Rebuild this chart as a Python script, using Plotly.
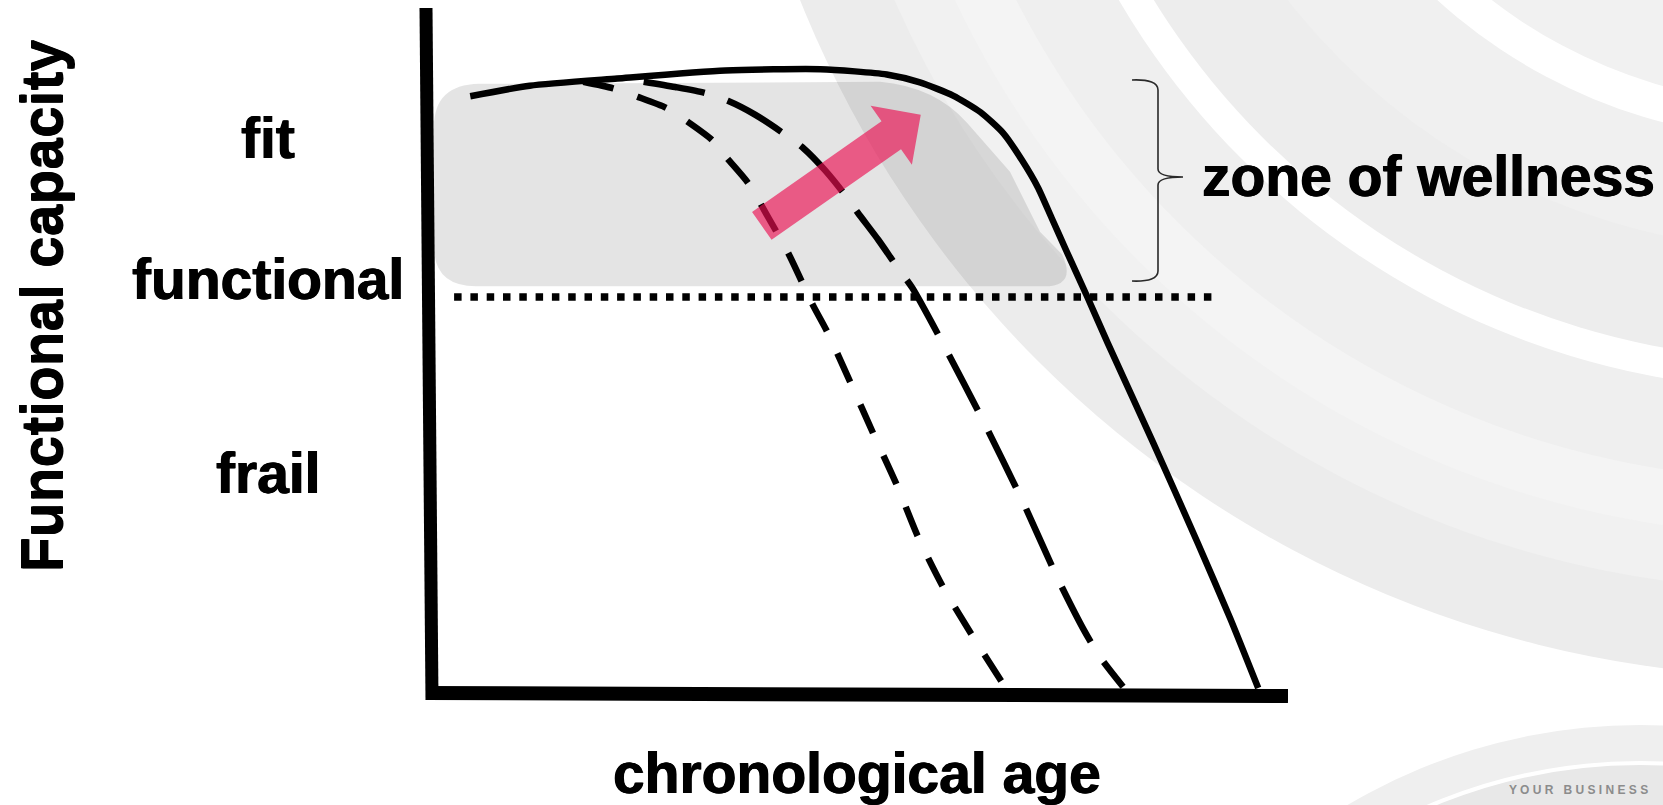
import numpy as np
import plotly.graph_objects as go

W, H = 1663, 805

# ---------------- data ----------------
# x: chronological age (arbitrary 0-100 scale), y: functional capacity (0-100)
solid_age = [4.5, 11.5, 21.8, 34.5, 45.7, 53.5, 57.4, 61.3, 64.5, 67.2,
             69.4, 71.3, 72.9, 74.6, 77.1, 79.5, 84.8, 90.1, 93.9, 97.2]
solid_cap = [90.5, 92.1, 93.2, 94.4, 94.6, 93.8, 92.6, 90.6, 88.1, 84.9,
             80.8, 76.6, 72.0, 67.1, 60.0, 53.0, 38.0, 22.6, 11.2, 0.6]

early_age = [17.8, 21.3, 24.2, 27.6, 30.1, 32.9, 34.7, 37.2, 39.6, 41.9,
             44.8, 46.5, 49.2, 51.9, 54.7, 57.2, 60.1, 63.5, 67.1]
early_cap = [92.7, 91.7, 90.4, 88.7, 86.6, 83.9, 81.1, 77.3, 72.0, 66.7,
             58.8, 54.7, 47.1, 39.3, 31.4, 23.5, 16.0, 8.7, 1.4]

mid_age = [24.9, 28.6, 32.1, 34.8, 38.0, 41.3, 43.7, 46.2, 48.6, 50.1,
           52.5, 54.7, 56.5, 60.0, 64.8, 69.4, 73.7, 76.7, 78.6, 81.3]
mid_cap = [92.7, 91.9, 91.0, 89.8, 87.7, 84.9, 82.6, 79.3, 75.5, 72.8,
           68.7, 64.6, 61.4, 53.2, 41.3, 29.2, 17.0, 9.4, 5.3, 0.8]

threshold_age = [2.6, 92.5]
threshold_cap = [60.0, 60.0]

arrow_from = (38.8, 70.8)   # (age, capacity)
arrow_to = (57.5, 87.7)

level_labels = ["fit", "functional", "frail"]
level_caps = [84.2, 62.7, 33.3]
zone_label = "zone of wellness"
zone_caps = [93.6, 62.4]
x_title = "chronological age"
y_title = "Functional capacity"
brand = "YOUR BUSINESS"

# ---------------- coordinate helpers ----------------
X0_PX, X_SCALE = 432.0, 8.5
Y0_PX, Y_SCALE = 692.0, 6.5833
x_range = [-X0_PX / X_SCALE, (W - X0_PX) / X_SCALE]
y_range = [(Y0_PX - H) / Y_SCALE, Y0_PX / Y_SCALE]


def a2px(a):
    return X0_PX + a * X_SCALE


def c2py(c):
    return Y0_PX - c * Y_SCALE


def px2x(px):
    return px / W


def py2y(py):
    return 1 - py / H


def path_from_px(cmds):
    out = []
    for c in cmds:
        if isinstance(c, str):
            out.append(c)
        else:
            out.append(f"{px2x(c[0]):.5f},{py2y(c[1]):.5f}")
    return " ".join(out)


FONT = "Liberation Sans, Arial, Helvetica, sans-serif"
BOLDEN = "0.6px 0 0 #000, -0.6px 0 0 #000"

fig = go.Figure()
shapes = []


def circle(cx, cy, r, col, lw=0, lc="#ffffff"):
    return dict(type="circle", xref="paper", yref="paper",
                x0=px2x(cx - r), x1=px2x(cx + r),
                y0=py2y(cy + r), y1=py2y(cy - r),
                fillcolor=col, line=dict(width=lw, color=lc), layer="below")


# ---------------- background swooshes ----------------
ring_center = (1800, -400)
rings = [(1077, "#ececec"), (990, "#f1f1f1"), (935, "#f4f4f4"),
         (880, "#efefef"), (790, "#ffffff"), (760, "#ededed"),
         (650, "#f0f0f0"), (540, "#ffffff"), (505, "#f1f1f1")]
for r, col in rings:
    shapes.append(circle(ring_center[0], ring_center[1], r, col))
# bottom-right swoosh
shapes.append(circle(1640, 1300, 575, "#efefef"))
shapes.append(circle(1640, 1300, 537, "#e8e8e8", lw=4))

# ---------------- zone of wellness (grey band) ----------------
top_py = c2py(zone_caps[0]) + 6
bot_py = c2py(zone_caps[1]) + 5
lx = a2px(0) + 2
zone_path = path_from_px([
    "M", (lx, top_py + 45),
    "Q", (lx, top_py + 3), (lx + 45, top_py + 2),
    "L", (880, top_py),
    "Q", (935, top_py + 5), (967, top_py + 41),
    "L", (1010, top_py + 90),
    "L", (1040, top_py + 150),
    "L", (1062, bot_py - 32),
    "Q", (1078, bot_py + 2), (1040, bot_py),
    "L", (lx + 42, bot_py),
    "Q", (lx, bot_py), (lx, bot_py - 40),
    "Z"])
shapes.append(dict(type="path", xref="paper", yref="paper", path=zone_path,
                   fillcolor="rgba(0,0,0,0.105)", line=dict(width=0),
                   layer="below"))

# ---------------- axes (drawn as thick strokes) ----------------
shapes.append(dict(type="line", xref="paper", yref="paper",
                   x0=px2x(426), y0=py2y(8), x1=px2x(432), y1=py2y(700),
                   line=dict(color="black", width=13), layer="above"))
shapes.append(dict(type="line", xref="paper", yref="paper",
                   x0=px2x(426), y0=py2y(693), x1=px2x(1288), y1=py2y(696),
                   line=dict(color="black", width=14), layer="above"))

# ---------------- pink arrow ----------------
T = np.array([a2px(arrow_from[0]), c2py(arrow_from[1])])
P = np.array([a2px(arrow_to[0]), c2py(arrow_to[1])])
u = (P - T) / np.linalg.norm(P - T)
n = np.array([-u[1], u[0]])
shaft, head_w, head_l = 17, 36, 36
base = P - u * head_l
pts = [T - n * shaft, base - n * shaft, base - n * head_w, P,
       base + n * head_w, base + n * shaft, T + n * shaft]
cmds = ["M", tuple(pts[0])]
for p in pts[1:]:
    cmds += ["L", tuple(p)]
cmds.append("Z")
shapes.append(dict(type="path", xref="paper", yref="paper",
                   path=path_from_px(cmds),
                   fillcolor="rgba(235,15,81,0.65)", line=dict(width=0),
                   layer="above"))

# ---------------- brace ----------------
bx = 1158
bt, bb, bm = 80, 281, 177
brace = path_from_px([
    "M", (bx - 26, bt),
    "Q", (bx, bt - 1), (bx, bt + 10),
    "L", (bx, bm - 8),
    "Q", (bx, bm), (bx + 25, bm),
    "Q", (bx, bm), (bx, bm + 8),
    "L", (bx, bb - 10),
    "Q", (bx, bb + 1), (bx - 26, bb)])
shapes.append(dict(type="path", xref="paper", yref="paper", path=brace,
                   line=dict(color="#2a2a2a", width=1.6), layer="above"))

# ---------------- curves ----------------
LW = 6.5
fig.add_trace(go.Scatter(x=solid_age, y=solid_cap, mode="lines",
                         line=dict(color="black", width=LW, shape="spline",
                                   smoothing=0.6),
                         hoverinfo="skip", showlegend=False))
fig.add_trace(go.Scatter(x=early_age, y=early_cap, mode="lines",
                         line=dict(color="black", width=LW, shape="spline",
                                   smoothing=0.7, dash="31px,25px"),
                         hoverinfo="skip", showlegend=False))
fig.add_trace(go.Scatter(x=mid_age, y=mid_cap, mode="lines",
                         line=dict(color="black", width=LW, shape="spline",
                                   smoothing=0.7, dash="62px,24px"),
                         hoverinfo="skip", showlegend=False))
fig.add_trace(go.Scatter(x=threshold_age, y=threshold_cap, mode="lines",
                         line=dict(color="black", width=7.5,
                                   dash="7.5px,8.8px"),
                         hoverinfo="skip", showlegend=False))

# ---------------- text ----------------
big = dict(family=FONT, size=57, color="black", weight="bold", shadow=BOLDEN)
annotations = []
for lab, cap in zip(level_labels, level_caps):
    annotations.append(dict(x=px2x(268), y=py2y(c2py(cap)), xref="paper",
                            yref="paper", text=lab, showarrow=False,
                            xanchor="center", yanchor="middle", font=big))
annotations.append(dict(x=px2x(1200), y=py2y(176), xref="paper", yref="paper",
                        text=zone_label, showarrow=False, xanchor="left",
                        yanchor="middle", font=big))
annotations.append(dict(x=px2x(857), y=py2y(773), xref="paper", yref="paper",
                        text=x_title, showarrow=False, xanchor="center",
                        yanchor="middle", font=big))
annotations.append(dict(x=px2x(42), y=py2y(306), xref="paper", yref="paper",
                        text=y_title, showarrow=False, textangle=-90,
                        xanchor="center", yanchor="middle",
                        font=dict(family=FONT, size=57, color="black",
                                  weight="bold",
                                  shadow="0 0.6px 0 #000, 0 -0.6px 0 #000")))
annotations.append(dict(x=px2x(1578), y=py2y(790), xref="paper", yref="paper",
                        text=" ".join(brand).replace("   ", "\u00a0\u00a0\u00a0"),
                        showarrow=False, xanchor="center", yanchor="middle",
                        font=dict(family=FONT, size=12, color="#8c8c8c",
                                  weight="bold")))

fig.update_layout(
    width=W, height=H,
    margin=dict(l=0, r=0, t=0, b=0),
    paper_bgcolor="white", plot_bgcolor="rgba(0,0,0,0)",
    xaxis=dict(range=x_range, visible=False, fixedrange=True),
    yaxis=dict(range=y_range, visible=False, fixedrange=True),
    shapes=shapes, annotations=annotations, showlegend=False,
)

fig.write_html("out.html", config={"displayModeBar": False},
               post_script="document.body.style.margin='0';"
                           "document.body.style.overflow='hidden';")
